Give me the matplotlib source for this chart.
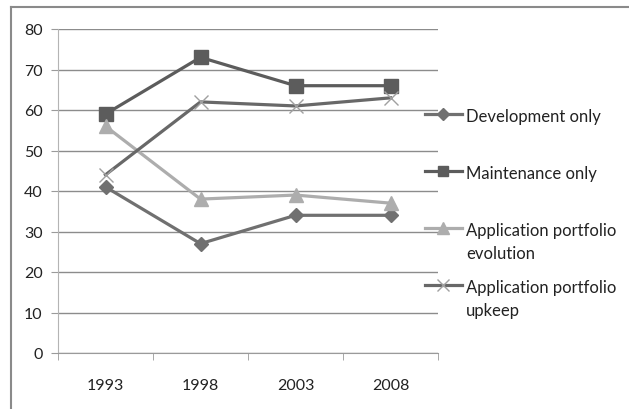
import matplotlib.pyplot as plt
from matplotlib.lines import Line2D

plt.rcParams['font.family'] = ['Lato', 'DejaVu Sans']

years = ['1993', '1998', '2003', '2008']
development = [41, 27, 34, 34]
maintenance = [59, 73, 66, 66]
evolution = [56, 38, 39, 37]
upkeep = [44, 62, 61, 63]
labels = ['Development only', 'Maintenance only',
          'Application portfolio\nevolution', 'Application portfolio\nupkeep']

styles = [
    dict(color='#707070', marker='D', ms=7, mfc='#707070', mec='#707070'),
    dict(color='#5c5c5c', marker='s', ms=10, mfc='#5c5c5c', mec='#5c5c5c'),
    dict(color='#adadad', marker='^', ms=10, mfc='#adadad', mec='#adadad'),
    dict(color='#686868', marker='x', ms=10, mfc='none', mec='#a0a0a0', mew=1.0),
]
legend_ms = [6, 7.5, 8, 8]

fig = plt.figure(figsize=(6.29, 4.10), dpi=100)
ax = fig.add_axes([58/629, 1 - 354/410, 380/629, 324/410])

x = range(len(years))
for vals, st in zip([development, maintenance, evolution, upkeep], styles):
    ax.plot(x, vals, lw=2.3, zorder=3, **st)

ax.set_xlim(-0.5, 3.5)
ax.set_ylim(0, 80)
ax.set_yticks(range(0, 81, 10))
ax.set_xticks(list(x))
ax.set_xticklabels(years)
ax.set_xticks([-0.5, 0.5, 1.5, 2.5, 3.5], minor=True)
ax.tick_params(axis='x', which='major', length=0, pad=18, labelsize=11.5, labelcolor='#222222')
ax.tick_params(axis='x', which='minor', length=5, color='#9a9a9a', direction='out')
ax.tick_params(axis='y', length=5, color='#9a9a9a', pad=6, labelsize=11.5, labelcolor='#222222')
ax.yaxis.grid(True, color='#8c8c8c', lw=1)
ax.set_axisbelow(True)
for s in ['top', 'right']:
    ax.spines[s].set_visible(False)
ax.spines['left'].set_color('#b4b4b4')
ax.spines['bottom'].set_color('#9a9a9a')

# legend drawn by hand, Excel style
rows = [115, 172, 229, 286]
for lab, st, ms, yp in zip(labels, styles, legend_ms, rows):
    yf = 1 - yp/410
    fig.add_artist(Line2D([425/629, 462/629], [yf, yf], transform=fig.transFigure,
                          lw=2.3, **{**st, 'marker': None}))
    mk = {k: v for k, v in st.items() if k != 'color'}
    mk['ms'] = ms
    fig.add_artist(Line2D([443/629], [yf], transform=fig.transFigure, ls='none', **mk))
    fig.text(466/629, yf + 6/410, lab, va='top', ha='left', fontsize=12,
             color='#222222', linespacing=1.57)

# frame of the original screenshot
fig.add_artist(Line2D([11/629, 1], [1 - 8/410, 1 - 8/410], transform=fig.transFigure, color='#8a8a8a', lw=1.5))
fig.add_artist(Line2D([11/629, 11/629], [0, 1 - 8/410], transform=fig.transFigure, color='#8a8a8a', lw=1.5))

fig.savefig('out.png', dpi=100)
